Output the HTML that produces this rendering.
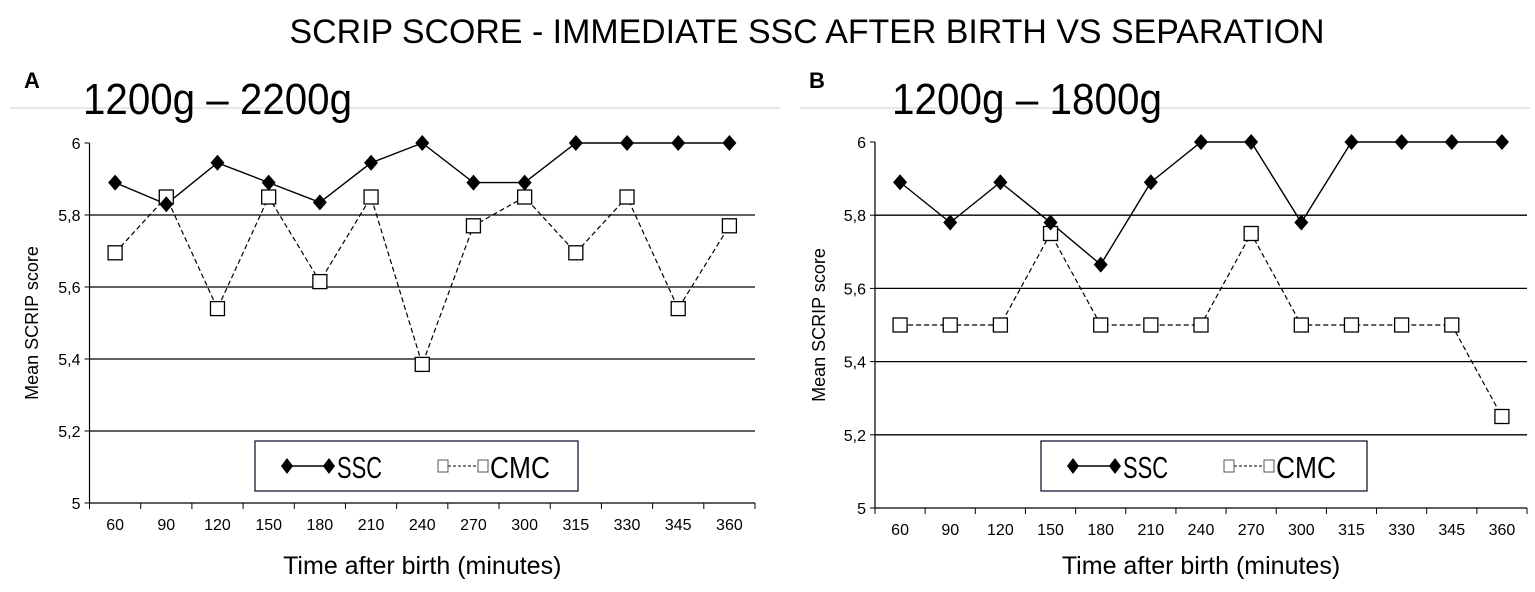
<!DOCTYPE html>
<html><head><meta charset="utf-8"><style>
html,body{margin:0;padding:0;background:#fff;}
svg{display:block;font-family:"Liberation Sans",sans-serif;}
</style></head><body>
<svg id="chart" width="1535" height="592" viewBox="0 0 1535 592" xmlns="http://www.w3.org/2000/svg">
<text x="807" y="43" font-size="34" text-anchor="middle" textLength="1035" lengthAdjust="spacingAndGlyphs">SCRIP SCORE - IMMEDIATE SSC AFTER BIRTH VS SEPARATION</text>
<g id="pA"></g>
<g id="pB"></g>
</svg>
<script>
const categories=["60","90","120","150","180","210","240","270","300","315","330","345","360"];
const yTicks=[5,5.2,5.4,5.6,5.8,6];
const yTickLabels=["5","5,2","5,4","5,6","5,8","6"];
const ssc_A=[5.89,5.83,5.945,5.89,5.835,5.945,6,5.89,5.89,6,6,6,6];
const cmc_A=[5.695,5.85,5.54,5.85,5.615,5.85,5.385,5.77,5.85,5.695,5.85,5.54,5.77];
const ssc_B=[5.89,5.78,5.89,5.78,5.665,5.89,6,6,5.78,6,6,6,6];
const cmc_B=[5.5,5.5,5.5,5.75,5.5,5.5,5.5,5.75,5.5,5.5,5.5,5.5,5.25];
const NS="http://www.w3.org/2000/svg";
function mk(p,t,a){const e=document.createElementNS(NS,t);for(const k in a)e.setAttribute(k,a[k]);p.appendChild(e);return e;}
function panel(g,cfg,ssc,cmc){
  const x0=cfg.x0,x1=cfg.x1,yTop=cfg.yTop,yBot=cfg.yBot;
  const bw=(x1-x0)/categories.length;
  const xs=i=>x0+bw*(i+0.5);
  const ys=v=>yBot-(v-5)/(6-5)*(yBot-yTop);
  let fl=mk(g,'line',{x1:cfg.fx0,x2:cfg.fx1,y1:108,y2:108,stroke:'#e0e0e0','stroke-width':1.5});
  
  
  let lt=mk(g,'text',{x:cfg.lx,y:88,'font-size':22,'font-weight':'bold'});lt.textContent=cfg.letter;
  
  
  let st=mk(g,'text',{x:cfg.sx,y:114,'font-size':44,textLength:cfg.sw,lengthAdjust:'spacingAndGlyphs'});st.textContent=cfg.sub;
  
  
  yTicks.forEach((v,i)=>{
    const y=ys(v);
    if(v>5&&v<6){let l=mk(g,'line',{x1:x0,x2:x1,y1:y,y2:y,stroke:'#000','stroke-width':1.3});
      
      }
    mk(g,'line',{x1:x0-5,x2:x0,y1:y,y2:y,stroke:'#000'});
    let t=mk(g,'text',{x:x0-9,y:y+6,'font-size':16,'text-anchor':'end'});t.textContent=yTickLabels[i];
    
    
  });
  mk(g,'line',{x1:x0,x2:x0,y1:yTop,y2:yBot,stroke:'#000','stroke-width':1.2});
  mk(g,'line',{x1:x0,x2:x1,y1:yBot,y2:yBot,stroke:'#000','stroke-width':1.2});
  for(let i=0;i<=categories.length;i++)mk(g,'line',{x1:x0+bw*i,x2:x0+bw*i,y1:yBot,y2:yBot+6,stroke:'#000'});
  categories.forEach((c,i)=>{let t=mk(g,'text',{x:xs(i),y:yBot+27,'font-size':16,'text-anchor':'middle'});t.textContent=c;
    
    });
  let yt=mk(g,'text',{x:0,y:0,'font-size':18,'text-anchor':'middle',transform:`translate(${cfg.ytx},${(yTop+yBot)/2}) rotate(-90)`});yt.textContent='Mean SCRIP score';
  
  
  let xt=mk(g,'text',{x:(x0+x1)/2,y:574,'font-size':25,'text-anchor':'middle'});xt.textContent='Time after birth (minutes)';
  
  
  let pc=mk(g,'polyline',{points:cmc.map((v,i)=>xs(i)+','+ys(v)).join(' '),fill:'none',stroke:'#000','stroke-width':1.2,'stroke-dasharray':'5,3'});
  
  
  let ps=mk(g,'polyline',{points:ssc.map((v,i)=>xs(i)+','+ys(v)).join(' '),fill:'none',stroke:'#000','stroke-width':1.4});
  
  
  cmc.forEach((v,i)=>{let r=mk(g,'rect',{x:xs(i)-7,y:ys(v)-7,width:14,height:14,fill:'#fff',stroke:'#000','stroke-width':1.3});
    
    });
  ssc.forEach((v,i)=>{const x=xs(i),y=ys(v);let d=mk(g,'polygon',{points:`${x},${y-8} ${x+7},${y} ${x},${y+8} ${x-7},${y}`,fill:'#000'});
    
    });
  const L=cfg.leg;
  let lg=mk(g,'g',{});
  
  
  mk(lg,'rect',{x:L.x,y:441,width:L.w,height:50,fill:'#fff',stroke:'#1a1a3a','stroke-width':1.3});
  const a=L.x+32;
  mk(lg,'line',{x1:a,x2:a+42,y1:466,y2:466,stroke:'#000','stroke-width':1.4});
  [a,a+42].forEach(x=>mk(lg,'polygon',{points:`${x},${458} ${x+6},466 ${x},474 ${x-6},466`,fill:'#000'}));
  let t1=mk(lg,'text',{x:a+50,y:478,'font-size':31,textLength:45,lengthAdjust:'spacingAndGlyphs'});t1.textContent='SSC';
  
  
  const b=L.x+188;
  mk(lg,'line',{x1:b,x2:b+40,y1:466,y2:466,stroke:'#000','stroke-width':1,'stroke-dasharray':'3,2'});
  [b,b+40].forEach(x=>mk(lg,'rect',{x:x-5,y:460,width:10,height:12,fill:'#fff',stroke:'#555'}));
  let t2=mk(lg,'text',{x:b+47,y:478,'font-size':31,textLength:60,lengthAdjust:'spacingAndGlyphs'});t2.textContent='CMC';
  
  
}
panel(document.getElementById('pA'),{x0:89.5,x1:755,yTop:143,yBot:503,lx:24,letter:'A',sx:83,sw:269,sub:'1200g – 2200g',ytx:38,fx0:10,fx1:780,leg:{x:255,w:323}},ssc_A,cmc_A);
panel(document.getElementById('pB'),{x0:875,x1:1527,yTop:142,yBot:508,lx:809,letter:'B',sx:892,sw:270,sub:'1200g – 1800g',ytx:825,fx0:800,fx1:1530,leg:{x:1041,w:326}},ssc_B,cmc_B);
</script>
</body></html>
